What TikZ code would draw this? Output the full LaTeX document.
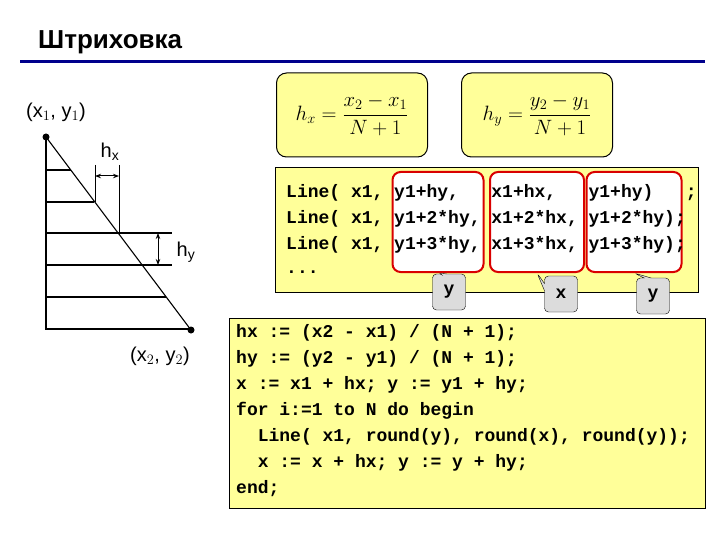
\documentclass[tikz,border=0pt]{standalone}
\usepackage{fontspec}
\setmainfont{Liberation Sans}
\newfontfamily\codefont{Liberation Mono}
\usetikzlibrary{shapes.callouts,arrows.meta}
\definecolor{ylw}{RGB}{255,255,153}
\definecolor{titleblue}{RGB}{0,0,140}
\definecolor{callg}{RGB}{220,220,220}
\begin{document}
\begin{tikzpicture}[x=1pt,y=-1pt,
  lbl/.style={font=\fontsize{20}{22}\selectfont,inner sep=0},
  code/.style={font=\codefont\bfseries\fontsize{18}{26}\selectfont,anchor=base west,inner sep=0},
  hatch/.style={line width=1.1pt},
  fbox/.style={draw,line width=1pt,fill=ylw,rounded corners=10pt},
  redbox/.style={draw=red!85!black,line width=2pt,fill=white,rounded corners=8pt},
  call/.style={rectangle callout,draw,fill=callg,rounded corners=4pt,minimum width=33pt,minimum height=36pt,font=\codefont\bfseries\fontsize{18}{20}\selectfont,inner sep=0}]
\useasboundingbox (0,0) rectangle (720,540);
\node[anchor=base west,font=\bfseries\fontsize{26}{28}\selectfont,inner sep=0] (title) at (38,49) {Штриховка};
\draw[titleblue,line width=3pt] (20,62) -- (705,62);
% left diagram
\coordinate (p1) at (46,137);
\coordinate (p2) at (191,330);
\draw[hatch] (46,137) -- (46,330);
\foreach \y/\x in {170/71,202/94,233/172,265/172,297/166,329/191}
  \draw[hatch] (46,\y) -- (\x,\y);
\draw[hatch] (p1) -- (p2);
\fill (p1) circle (3.5pt);
\fill (p2) circle (3.5pt);
\draw (95,165) -- (95,202);
\draw (119,165) -- (119,233);
\draw[{Stealth[length=6pt]}-{Stealth[length=6pt]},line width=1pt] (95,176) -- (119,176);
\draw[{Stealth[length=6pt]}-{Stealth[length=6pt]},line width=1pt] (158,233) -- (158,265);
\node[lbl] (lx1) at (56,112) {(x$_1$, y$_1$)};
\node[lbl] (lhx) at (110,152) {h$_\mathrm{x}$};
\node[lbl] (lhy) at (186,252) {h$_\mathrm{y}$};
\node[lbl] (lx2) at (160,356) {(x$_2$, y$_2$)};
% formula boxes
\node[fbox,minimum width=151pt,minimum height=84pt] (fx) at (352,115)
  {\fontsize{22}{24}\selectfont$\displaystyle h_x=\frac{x_2-x_1}{N+1}$};
\node[fbox,minimum width=151pt,minimum height=84pt] (fy) at (537,115)
  {\fontsize{22}{24}\selectfont$\displaystyle h_y=\frac{y_2-y_1}{N+1}$};
% code box
\draw[fill=ylw,line width=1pt] (275,168) rectangle (698,292);
\node[redbox,minimum width=91pt,minimum height=100pt] (r1) at (438,222) {};
\node[redbox,minimum width=94pt,minimum height=100pt] (r2) at (537,222) {};
\node[redbox,minimum width=95pt,minimum height=100pt] (r3) at (634,222) {};
\node[code] (c1) at (286,197) {Line( x1, y1+hy,\ \ \ x1+hx,\ \ \ y1+hy)\ \ \ ;};
\node[code] (c2) at (286,223) {Line( x1, y1+2*hy, x1+2*hx, y1+2*hy);};
\node[code] (c3) at (286,249) {Line( x1, y1+3*hy, x1+3*hx, y1+3*hy);};
\node[code] (c4) at (286,273) {...};
\node[call,callout absolute pointer={(r1.south)}] (k1) at (449,292) {y};
\node[call,callout absolute pointer={(r2.south)}] (k2) at (561,294) {x};
\node[call,callout absolute pointer={(r3.south)}] (k3) at (653,296) {y};
% bottom code
\draw[fill=ylw,line width=1pt] (229,318) rectangle (705,508);
\node[code] (b1) at (236,337) {hx := (x2 - x1) / (N + 1);};
\node[code] (b2) at (236,363) {hy := (y2 - y1) / (N + 1);};
\node[code] (b3) at (236,389) {x := x1 + hx; y := y1 + hy;};
\node[code] (b4) at (236,415) {for i:=1 to N do begin};
\node[code] (b5) at (236,441) {\ \ Line( x1, round(y), round(x), round(y));};
\node[code] (b6) at (236,467) {\ \ x := x + hx; y := y + hy;};
\node[code] (b7) at (236,493) {end;};
\end{tikzpicture}
\end{document}
